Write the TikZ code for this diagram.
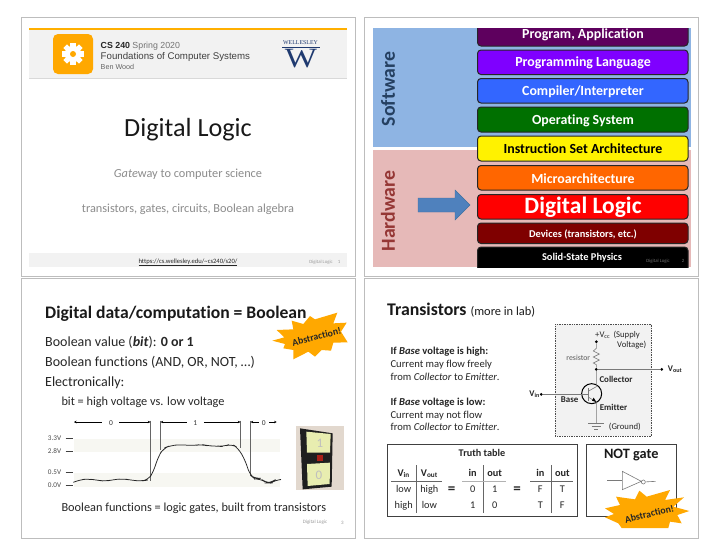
\documentclass[tikz,border=0pt]{standalone}
\usepackage{fontspec}
\setmainfont{Carlito}[Ligatures=NoCommon]
\newfontfamily\hdr{Liberation Sans}
\newfontfamily\srf{Liberation Serif}
\usetikzlibrary{arrows.meta}
\newcommand\fs[1]{\fontsize{#1}{#1}\selectfont}
\definecolor{frameg}{HTML}{BDBDBD}
\definecolor{band}{HTML}{F2F2F2}
\definecolor{orng}{HTML}{FFA800}
\definecolor{wblue}{HTML}{1F3A70}
\definecolor{txtg}{HTML}{8C8C8C}
\definecolor{txt}{HTML}{262626}
\definecolor{wave}{HTML}{F7F7F2}
\definecolor{cline}{HTML}{7A7A7A}
\definecolor{swbg}{HTML}{8EB4E3}
\definecolor{hwbg}{HTML}{E6B9B8}
\definecolor{swt}{HTML}{254061}
\definecolor{hwt}{HTML}{953735}
\definecolor{arrf}{HTML}{4F81BD}
\definecolor{arrd}{HTML}{41719F}
\definecolor{lpurp}{HTML}{5E005E}
\definecolor{lviol}{HTML}{7F00FF}
\definecolor{lblue}{HTML}{3366FF}
\definecolor{lgreen}{HTML}{007000}
\definecolor{lorange}{HTML}{FF6600}
\definecolor{ldred}{HTML}{7F0000}
\definecolor{phbg}{HTML}{E2D8CE}
\definecolor{phnote}{HTML}{E8EDB0}
\definecolor{phred}{HTML}{A82018}
\tikzset{
  slideframe/.style={draw=frameg,line width=.9pt},
  tl/.style={inner sep=0pt,anchor=base west,text=txt},
  tc/.style={inner sep=0pt,anchor=base,text=txt},
  tr/.style={inner sep=0pt,anchor=base east,text=txt},
  layer/.style={draw=black!85,line width=1pt,rounded corners=3.5pt},
  lay/.style={inner sep=0pt,anchor=center,font=\bfseries,text=white},
  zoomthree/.style={x=.33333pt,y=-.33333pt},
  dim/.style={line width=.7pt,black,-{Stealth[length=2.5pt,width=2.5pt]}},
  vl/.style={line width=.6pt,black!60},
  tick/.style={line width=.8pt,black!75},
  wire/.style={line width=.6pt,cline},
  tbl/.style={line width=.6pt,black!60},
  panel/.style={draw=black!75,line width=1pt},
  dot/.style={circle,fill=black,inner sep=0pt,minimum size=3pt},
  burst/.style={fill=orng,draw=none},
}
\begin{document}
\begin{tikzpicture}[x=1pt,y=-1pt]
\useasboundingbox (0,0) rectangle (720,557);
\fill[white] (0,0) rectangle (720,557);
% frames
\draw[slideframe] (21.5,17.5) rectangle (355,276);
\draw[slideframe] (364.5,17.5) rectangle (698,276);
\draw[slideframe] (21.5,278) rectangle (355,538);
\draw[slideframe] (364.5,278) rectangle (698,538);

% ---------- slide 1
\fill[band] (29,30) rectangle (347,78.5);
\draw[black!15,line width=.5pt] (29,78.5) -- (347,78.5);
\fill[orng!92!yellow] (29,28) rectangle (347,30.2);
\fill[orng,rounded corners=5pt] (53,34) rectangle (93,74);
\begin{scope}[shift={(73,54)}]
  \foreach \a in {0,45,...,315}
    \fill[white,rotate=\a] (-2.6,-11) rectangle (2.6,0);
  \fill[white] (0,0) circle (8.2);
  \fill[orng] (0,0) circle (3);
\end{scope}
\node[tl,font=\hdr\fs{8.8}] (h1) at (100.5,48) {\textbf{CS 240} \textcolor{black!55}{Spring 2020}};
\node[tl,font=\hdr\fs{9.7}] (h2) at (100.5,59.5) {\textcolor{black!75}{Foundations of Computer Systems}};
\node[tl,font=\hdr\fs{7.2}] (h3) at (100.5,69) {\textcolor{black!60}{Ben Wood}};
\node[tc,font=\srf\fs{5.9},text=wblue] (wt) at (300.5,44.5) {WELLESLEY};
\draw[wblue,line width=.9pt] (282,47.3) -- (320,47.3);
\node[inner sep=0pt,font=\srf\fs{34},text=wblue,yscale=.82,transform shape] (wl) at (301,58.3) {W};
\node[tc,font=\fs{26.2},text=black!90] (t1) at (188,136) {Digital Logic};
\node[tc,font=\fs{12.3},text=txtg] (t2) at (188,177) {\textit{Gate}way to computer science};
\node[tc,font=\fs{12.3},text=txtg] (t3) at (188,212.5) {transistors, gates, circuits, Boolean algebra};
\fill[band] (29,253) rectangle (347,267);
\node[tc,font=\fs{6.6},text=black!85] (url) at (188,263) {\underline{https://cs.wellesley.edu/\textasciitilde cs240/s20/}};
\node[tc,font=\fs{4.8},text=black!40] (f1) at (321,263) {Digital Logic};
\node[tc,font=\fs{4.8},text=black!40] (n1) at (339,263) {1};

% ---------- slide 2
\fill[swbg] (373,28) rectangle (691,146.5);
\fill[hwbg] (373,150) rectangle (691,267);
\node[inner sep=0pt,rotate=90,font=\bfseries\fs{19.8},text=swt] (sw) at (388,89) {Software};
\node[inner sep=0pt,rotate=90,font=\bfseries\fs{19.8},text=hwt] (hw) at (388,211) {Hardware};
\fill[arrf,draw=arrd,line width=.4pt] (418,198) -- (455,198) -- (455,190) -- (470,205) -- (455,220) -- (455,212) -- (418,212) -- cycle;
\begin{scope}
\clip (470,28) rectangle (695,267);
\draw[layer,fill=lpurp] (477.5,20) rectangle (688,46);
\draw[layer,fill=lviol] (477.5,50) rectangle (688,74.5);
\draw[layer,fill=lblue] (477.5,78.5) rectangle (688,103);
\draw[layer,fill=lgreen] (477.5,107) rectangle (688,132);
\draw[layer,fill=yellow] (477.5,136) rectangle (688,161);
\draw[layer,fill=lorange] (477.5,165.5) rectangle (688,190);
\draw[layer,fill=red] (477.5,194.5) rectangle (688,219);
\draw[layer,fill=ldred] (477.5,223) rectangle (688,243.5);
\draw[layer,fill=black] (477.5,247) rectangle (688,275);
\end{scope}
\node[lay,font=\bfseries\fs{13.9}] (l1) at (583,34.5) {Program, Application};
\node[lay,font=\bfseries\fs{13.9}] (l2) at (583,63) {Programming Language};
\node[lay,font=\bfseries\fs{13.9}] (l3) at (583,92) {Compiler/Interpreter};
\node[lay,font=\bfseries\fs{13.9}] (l4) at (583,120.5) {Operating System};
\node[lay,font=\bfseries\fs{13.9},text=black] (l5) at (583,149) {Instruction Set Architecture};
\node[lay,font=\bfseries\fs{13.9}] (l6) at (583,178.5) {Microarchitecture};
\node[lay,font=\bfseries\fs{23.5}] (l7) at (583,207) {Digital Logic};
\node[lay,font=\bfseries\fs{10.4}] (l8) at (583,234) {Devices (transistors, etc.)};
\node[lay,font=\bfseries\fs{10.4}] (l9) at (582,257.5) {Solid-State Physics};
\node[tc,font=\fs{4.8},text=black!55] (f2) at (658,262) {Digital Logic};
\node[tc,font=\fs{4.8},text=black!55] (n2) at (683,262) {2};

% ---------- slide 3
\begin{scope}[shift={(0,280)},zoomthree]
\node[tl,font=\bfseries\fs{17.6},text=black!90] (s3t) at (135,115) {Digital data/computation = Boolean};
\node[tl,font=\fs{14}] (b1) at (135,198) {Boolean value (\textbf{\textit{bit}}): \textbf{0 or 1}};
\node[tl,font=\fs{14}] (b2) at (135,258) {Boolean functions (AND, OR, NOT, …)};
\node[tl,font=\fs{14}] (b3) at (135,318) {Electronically:};
\node[tl,font=\fs{12.3}] (b4) at (184,375) {bit = high voltage vs. low voltage};
\node[tl,font=\fs{12.3}] (b5) at (184,694) {Boolean functions = logic gates, built from transistors};
\fill[wave] (222,476) rectangle (840,515);
\fill[wave] (222,578) rectangle (840,620);
\draw[vl] (451,422) -- (451,603);
\draw[vl] (481,422) -- (481,510);
\draw[vl] (721,422) -- (721,505);
\draw[vl] (751,422) -- (751,585);
\node[inner sep=0pt,font=\fs{7.5},text=black!80] (d0a) at (333,430) {0};
\node[inner sep=0pt,font=\fs{7.5},text=black!80] (d1) at (586,430) {1};
\node[inner sep=0pt,font=\fs{7.5},text=black!80] (d0b) at (791,430) {0};
\draw[dim] (305,426) -- (222,426);
\draw[dim] (358,426) -- (451,426);
\draw[dim] (560,426) -- (482,426);
\draw[dim] (612,426) -- (721,426);
\draw[dim] (776,426) -- (752,426);
\draw[dim] (808,426) -- (830,426);
\foreach \y/\l in {475/3.3V,514/2.8V,578/0.5V,617/0.0V}{
  \draw[tick] (197,\y) -- (220,\y);
  \node[inner sep=0pt,anchor=east,font=\fs{7.2},text=black!70] at (184,\y) {\l};
}
\draw[black!85,line width=.75pt,rounded corners=6pt] (220,607) -- (240,599) -- (265,597) -- (290,600) -- (315,604) -- (340,599) -- (370,596) -- (395,601) -- (425,603) -- (445,600) -- (460,575) -- (475,530) -- (490,505) -- (510,497) -- (540,494) -- (580,497) -- (605,493) -- (625,498) -- (650,498) -- (670,500) -- (695,491) -- (715,505) -- (735,540) -- (750,585) -- (765,597) -- (780,595) -- (800,609) -- (812,609) -- (825,600) -- (838,599);
% photo
\fill[phbg] (888,438) rectangle (1032,629);
\fill[black!88] (900,445) -- (998,460) -- (995,620) -- (908,628) -- cycle;
\fill[phnote] (919,455) -- (992,462) -- (990,518) -- (921,518) -- cycle;
\fill[phnote] (921,552) -- (990,548) -- (989,612) -- (923,618) -- cycle;
\fill[phred] (952,524) rectangle (968,543);
\node[inner sep=0pt,font=\fs{13},text=black!25] (p1) at (960,490) {1};
\node[inner sep=0pt,font=\fs{13},text=black!25] (p0) at (957,585) {0};
\node[inner sep=0pt,font=\fs{5},text=black!40] (f3) at (945,727) {Digital Logic};
\node[inner sep=0pt,font=\fs{5},text=black!40] (n3) at (1027,728) {3};
\end{scope}
% burst 1
\begin{scope}[shift={(265,300)},zoomthree]
\fill[burst] (22,122) -- (58,112) -- (35,90) -- (85,88) -- (80,62) -- (115,72) -- (135,48) -- (150,58) -- (217,38) -- (205,70) -- (245,68) -- (228,95) -- (248,127) -- (205,128) -- (198,152) -- (170,150) -- (150,170) -- (130,155) -- (85,178) -- (85,150) -- (55,145) -- (60,132) -- cycle;
\node[inner sep=0pt,rotate=14,font=\bfseries\fs{9.8},text=black!85] (ab1) at (155,110) {Abstraction!};
\end{scope}

% ---------- slide 4
\begin{scope}[shift={(360,280)},zoomthree]
\node[tl,font=\fs{17.8},text=black!90] (s4t) at (81,105) {\textbf{Transistors} {\fs{12.4}(more in lab)}};
\node[tl,font=\fs{10.6}] (c1) at (91,224) {\textbf{If \textit{Base} voltage is high:}};
\node[tl,font=\fs{10.6}] (c2) at (91,262) {Current may flow freely};
\node[tl,font=\fs{10.6}] (c3) at (91,301) {from \textit{Collector} to \textit{Emitter}.};
\node[tl,font=\fs{10.6}] (c4) at (91,376) {\textbf{If \textit{Base} voltage is low:}};
\node[tl,font=\fs{10.6}] (c5) at (91,415) {Current may not flow};
\node[tl,font=\fs{10.6}] (c6) at (91,452) {from \textit{Collector} to \textit{Emitter}.};
% circuit
\fill[band] (585,133) rectangle (875,469);
\draw[black!70,densely dotted,line width=.7pt] (585,133) rectangle (875,469);
\coordinate (vcc) at (709,185);
\coordinate (jn) at (709,268);
\coordinate (vo) at (905,268);
\coordinate (vi) at (544,343);
\coordinate (gnd) at (709,429);
\node[dot] (vccd) at (vcc) {};
\node[dot] (jnd) at (jn) {};
\node[dot] (vod) at (vo) {};
\node[dot] (vid) at (vi) {};
\node[draw=black,line width=1pt,circle,minimum size=20pt,inner sep=0pt] (q) at (695,341) {};
\coordinate (bb) at (686,343);
\draw[wire] (vccd) -- (709,205) -- (700,213) -- (718,222) -- (700,231) -- (718,240) -- (700,249) -- (709,254) -- (jnd);
\draw[wire] (jnd) -- (vod);
\draw[wire] (vid) -- (bb);
\draw[wire] (jnd) -- (709,320) -- (686,333);
\draw[wire,line width=.9pt] (686,325) -- (686,362);
\draw[wire] (686,352) -- (709,366) -- (gnd);
\fill[black] (709,366) -- (696,362) -- (701,353) -- cycle;
\draw[wire] (684,429) -- (733,429);
\draw[wire] (695,438) -- (722,438);
\draw[wire] (703,447) -- (715,447);
\node[tl,font=\fs{8.7}] (vcl) at (705,171) {+V\textsubscript{cc}\ \,(Supply};
\node[tl,font=\fs{8.7}] (vcm) at (771,201) {Voltage)};
\node[tr,font=\fs{7.8},text=black!65] (res) at (691,240) {resistor};
\node[tl,font=\bfseries\fs{8.9}] (col) at (718,307) {Collector};
\node[tl,font=\bfseries\fs{8.9}] (bas) at (602,366) {Base};
\node[tl,font=\bfseries\fs{8.9}] (emi) at (719,390) {Emitter};
\node[tl,font=\fs{8.7}] (grd) at (746,448) {(Ground)};
\node[tl,font=\bfseries\fs{8.7}] (vout) at (923,275) {V\textsubscript{out}};
\node[tr,font=\bfseries\fs{8.7}] (vin) at (540,350) {V\textsubscript{in}};
% truth table
\draw[panel] (81,493) rectangle (652,709);
\draw[panel] (680,493) rectangle (949,709);
\node[inner sep=0pt,font=\bfseries\fs{10.2},text=txt] (tt) at (366,520) {Truth table};
\node[inner sep=0pt,font=\bfseries\fs{14.3},text=black!90] (ng) at (814,526) {NOT gate};
\draw[tbl] (170,556) -- (170,698);
\draw[tbl] (93,604) -- (247,604);
\draw[tbl] (370,556) -- (370,698);
\draw[line width=1pt,black!30] (306,603) -- (437,603);
\draw[tbl] (574,556) -- (574,698);
\draw[tbl] (510,604) -- (640,604);
\foreach \n/\x/\y/\t in {a1/131/589/\textbf{V\textsubscript{in}},a2/208/589/\textbf{V\textsubscript{out}},a3/338/589/\textbf{in},a4/404/589/\textbf{out},a5/541/589/\textbf{in},a6/607/589/\textbf{out},
  b1/131/637/low,b2/208/637/high,b3/338/637/0,b4/404/637/1,b5/541/637/F,b6/607/637/T,
  c1/131/685/high,c2/208/685/low,c3/338/685/1,c4/404/685/0,c5/541/685/T,c6/607/685/F}
  \node[tc,font=\fs{10.3}] (cell\n) at (\x,\y) {\t};
\node[inner sep=0pt,font=\bfseries\fs{15},text=black!85] (eq1) at (275,630) {=};
\node[inner sep=0pt,font=\bfseries\fs{15},text=black!85] (eq2) at (471,630) {=};
% NOT gate
\coordinate (gi) at (741,602);
\coordinate (go) at (887,604);
\draw[wire] (gi) -- (787,602);
\draw[wire] (787,574) -- (844,604) -- (787,629) -- cycle;
\node[draw=cline,line width=.6pt,circle,inner sep=0pt,minimum size=4pt] (bub) at (850,606) {};
\draw[wire] (bub) -- (go);
\end{scope}
% burst 2
\begin{scope}[shift={(590,440)},zoomthree]
\fill[burst] (45,205) -- (90,195) -- (78,170) -- (135,178) -- (148,152) -- (170,170) -- (240,150) -- (225,180) -- (282,172) -- (250,200) -- (298,213) -- (262,225) -- (275,250) -- (240,245) -- (235,264) -- (95,264) -- (85,250) -- (45,232) -- (72,222) -- cycle;
\node[inner sep=0pt,rotate=14,font=\bfseries\fs{9.8},text=black!85] (ab2) at (178,222) {Abstraction!};
\end{scope}
\end{tikzpicture}
\end{document}
